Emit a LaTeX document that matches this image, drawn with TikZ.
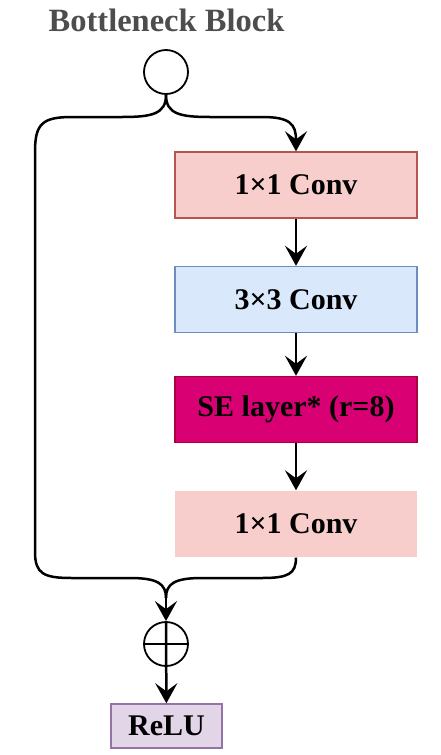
\documentclass[tikz,border=0pt]{standalone}
\usepackage{fontspec}
\setmainfont{Liberation Serif}
\usepackage{tikz}
\usetikzlibrary{arrows.meta}

\definecolor{convred}{HTML}{F8CECC}
\definecolor{convredline}{HTML}{B85450}
\definecolor{convblue}{HTML}{DAE8FC}
\definecolor{convblueline}{HTML}{6C8EBF}
\definecolor{semagenta}{HTML}{D80073}
\definecolor{semagentaline}{HTML}{A50040}
\definecolor{relupurple}{HTML}{E1D5E7}
\definecolor{relupurpleline}{HTML}{9673A6}
\definecolor{titlegray}{HTML}{4D4D4D}

\begin{document}
\begin{tikzpicture}[x=1pt,y=-1pt,font=\fontsize{30}{36}\selectfont\bfseries]
\useasboundingbox (0,0) rectangle (440,755);

%title on top
\node[text=titlegray,font=\fontsize{32.5}{36}\selectfont\bfseries] (title) at (166.5,20) {Bottleneck Block};

%the layer boxes, all the same size
\begin{scope}[every node/.style={rectangle,line width=1.4pt,minimum width=242pt,minimum height=66pt,inner sep=0pt}]
    \node[fill=convred,draw=convredline] (conv1) at (296,185) {1×1 Conv};
    \node[fill=convblue,draw=convblueline] (conv3) at (296,299.5) {3×3 Conv};
    \node[fill=semagenta,draw=semagentaline] (se) at (296,409.5) {SE layer* (r=8)};
    \node[fill=convred] (conv2) at (296,524) {1×1 Conv};
    \node[fill=relupurple,draw=relupurpleline,minimum width=111pt,minimum height=44pt] (relu) at (166.5,726) {ReLU};
\end{scope}

%input circle and the sum circle
\begin{scope}[every node/.style={circle,line width=1.8pt,draw,minimum size=44pt,inner sep=0pt}]
    \node (input) at (166,72) {};
    \node[path picture={\draw[line width=1.8pt] (path picture bounding box.west) -- (path picture bounding box.east);}] (plus) at (166,644) {};
\end{scope}

%points where the branches turn and meet
\coordinate (merge) at (166,598);

%the arrows
\begin{scope}[>={Stealth[length=20pt,width=22pt,inset=8pt]},
              every edge/.style={draw=black,line width=2.5pt}]
    \path [->] (conv1) edge (conv3);
    \path [->] (conv3) edge (se);
    \path [->] (se) edge (conv2);
    \path [->] (merge) edge (plus.north);
    \path [->] (plus.north) edge (relu);
\end{scope}

%the main branch into the first conv
\draw[line width=2.5pt,-{Stealth[length=20pt,width=22pt,inset=8pt]}] (input.south)
    .. controls (166,114) and (180,117) .. (210,117) -- (262,117)
    .. controls (290,117) and (296,124) .. (conv1.north);

%the skip branch down the left side
\draw[line width=2.5pt] (input.south)
    .. controls (166,114) and (152,117) .. (122,117) -- (72,117)
    .. controls (42,117) and (35,124) .. (35,152) -- (35,552)
    .. controls (35,574) and (44,578) .. (72,578) -- (130,578)
    .. controls (158,578) and (166,584) .. (merge);

%the main branch back to the sum
\draw[line width=2.5pt] (conv2.south)
    .. controls (296,574) and (288,578) .. (262,578) -- (202,578)
    .. controls (174,578) and (166,584) .. (merge);
\end{tikzpicture}
\end{document}
